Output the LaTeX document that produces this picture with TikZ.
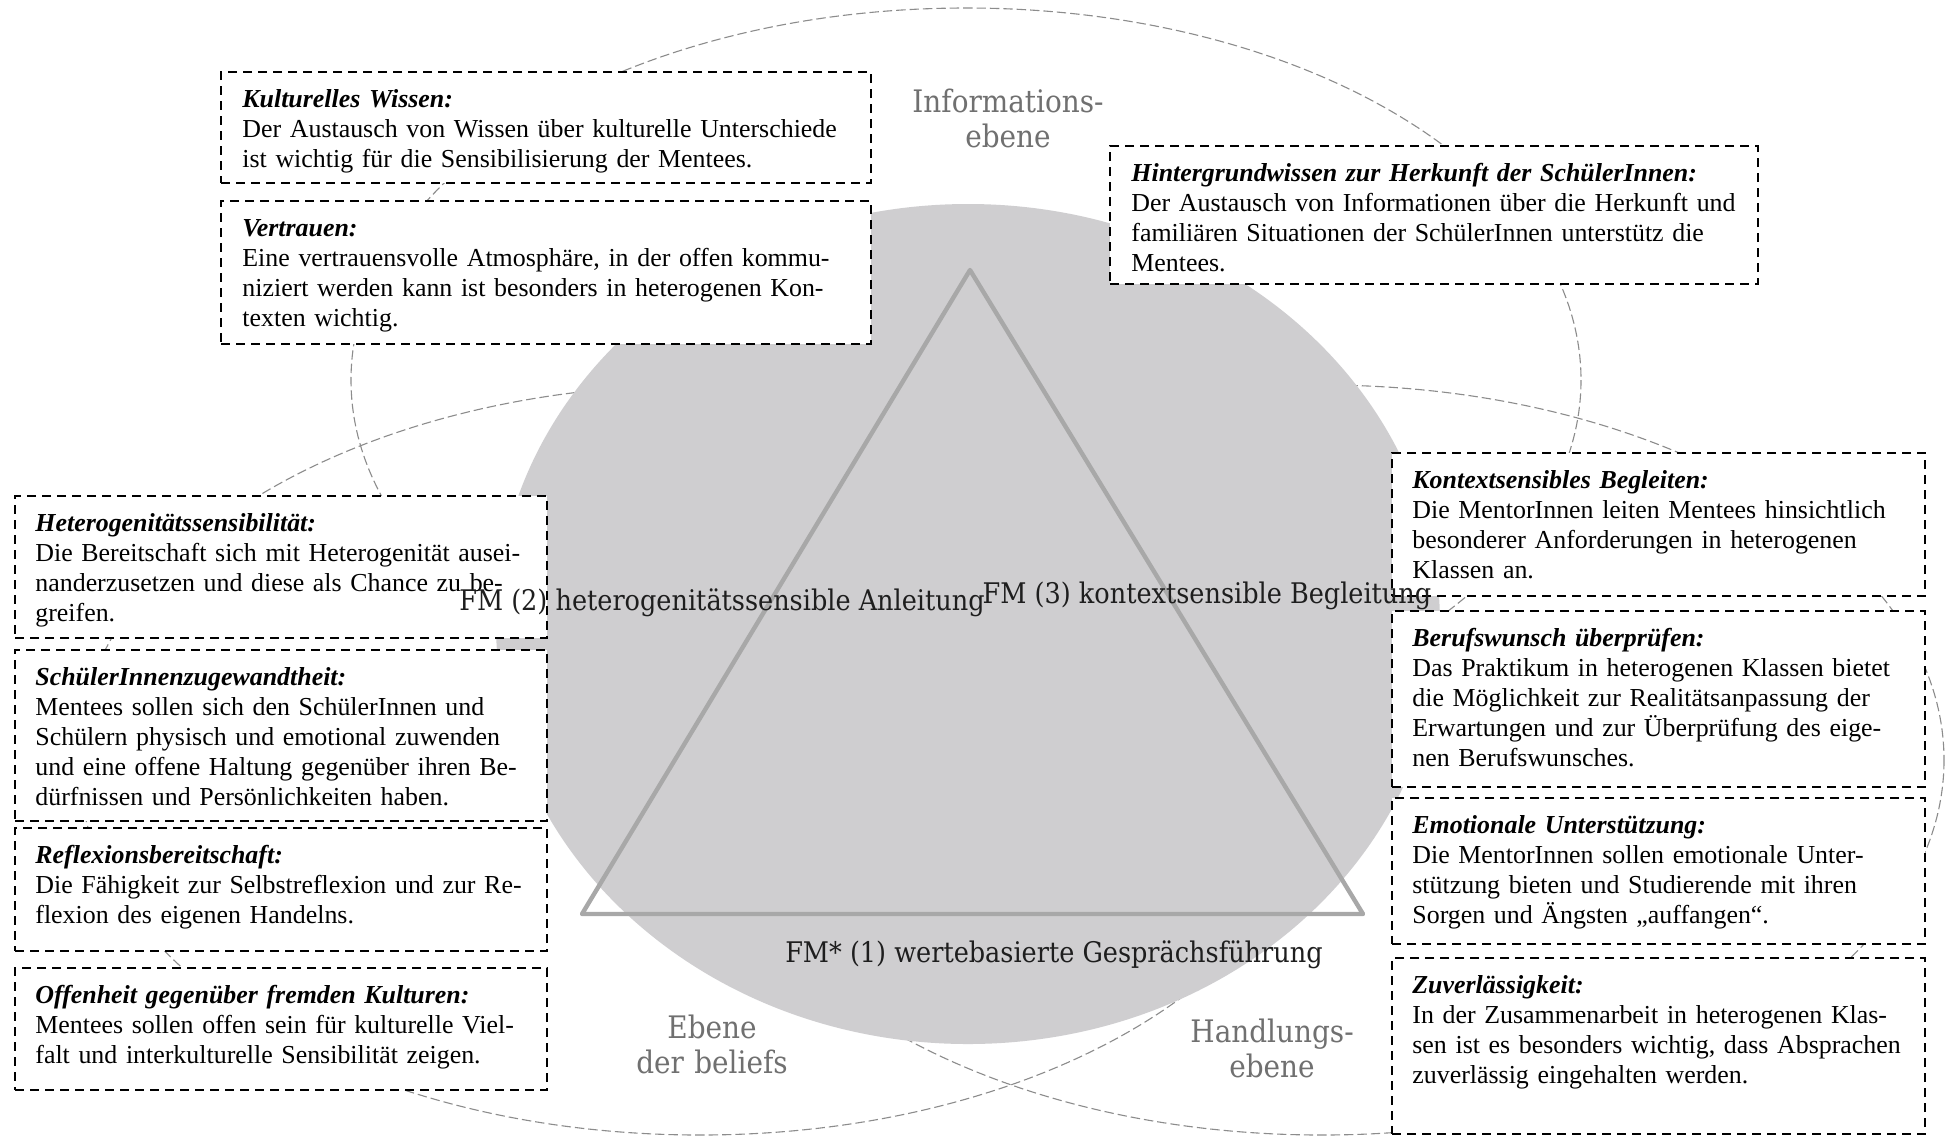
\documentclass[tikz,border=0pt]{standalone}
\usepackage{fontspec}
\setmainfont{Liberation Serif}
\newfontfamily\lblfont{DejaVu Serif Condensed}
\definecolor{discgray}{RGB}{207,206,208}
\definecolor{trigray}{RGB}{168,168,168}
\definecolor{vennline}{RGB}{140,140,140}
\definecolor{venntext}{RGB}{112,112,112}
\definecolor{fmtext}{RGB}{30,30,30}
\newcommand\cardtitle[1]{\textbf{\textit{#1}}}

\begin{document}
\begin{tikzpicture}[x=0.5pt,y=-0.5pt,
  venn/.style={draw=vennline, line width=0.55pt, dash pattern=on 4.7pt off 2pt},
  card/.style={draw=black, fill=white, line width=1pt, dash pattern=on 4.5pt off 3pt,
    inner sep=0pt, anchor=north west},
  wide/.style={card, minimum width=325pt},
  side/.style={card, minimum width=266pt},
  cardtext/.style={anchor=base west, inner sep=0pt, align=left, text width=#1,
    font=\fontsize{12.95}{15}\selectfont},
  level/.style={anchor=base, inner sep=0pt, align=center, text width=140pt,
    text=venntext, font=\lblfont\fontsize{15.5}{17.5}\selectfont},
  fm/.style={anchor=base, inner sep=0pt, text=fmtext,
    font=\lblfont\fontsize{14.2}{17}\selectfont}]

% page
\path[fill=white] (0,0) rectangle (1952,1137);
\useasboundingbox (0,0) rectangle (1952,1137);

% three overlapping levels
\draw[venn] (966,380) ellipse [x radius=615, y radius=372];
\draw[venn] (700,760) ellipse [x radius=622, y radius=375];
\draw[venn] (1322,760) ellipse [x radius=622, y radius=375];

% core disc and triangle
\fill[discgray] (968,624) ellipse [x radius=472, y radius=420];
\coordinate (apex) at (970,270);
\coordinate (bl) at (582,914);
\coordinate (br) at (1363,914);
\draw[trigray, line width=2.2pt, line join=round] (apex) -- (bl) -- (br) -- cycle;

% cards, top
\node[wide, minimum height=55.5pt] (kw) at (220,71) {};
\node[cardtext=311pt] (kwt) at ([shift={(22,36)}]kw.north west)
  {\cardtitle{Kulturelles Wissen:}\\
   Der Austausch von Wissen über kulturelle Unterschiede\\
   ist wichtig für die Sensibilisierung der Mentees.};

\node[wide, minimum height=71.5pt] (vt) at (220,200) {};
\node[cardtext=311pt] (vtt) at ([shift={(22,36)}]vt.north west)
  {\cardtitle{Vertrauen:}\\
   Eine vertrauensvolle Atmosphäre, in der offen kommu-\\
   niziert werden kann ist besonders in heterogenen Kon-\\
   texten wichtig.};

\node[card, minimum width=324pt, minimum height=69pt] (hw) at (1109,145) {};
\node[cardtext=310pt] (hwt) at ([shift={(22,36)}]hw.north west)
  {\cardtitle{Hintergrundwissen zur Herkunft der SchülerInnen:}\\
   Der Austausch von Informationen über die Herkunft und\\
   familiären Situationen der SchülerInnen unterstütz die\\
   Mentees.};

% cards, left
\node[side, minimum height=71pt] (hs) at (14,495) {};
\node[cardtext=253pt] (hst) at ([shift={(21,36)}]hs.north west)
  {\cardtitle{Heterogenitätssensibilität:}\\
   Die Bereitschaft sich mit Heterogenität ausei-\\
   nanderzusetzen und diese als Chance zu be-\\
   greifen.};

\node[side, minimum height=85.5pt] (sz) at (14,649) {};
\node[cardtext=253pt] (szt) at ([shift={(21,36)}]sz.north west)
  {\cardtitle{SchülerInnenzugewandtheit:}\\
   Mentees sollen sich den SchülerInnen und\\
   Schülern physisch und emotional zuwenden\\
   und eine offene Haltung gegenüber ihren Be-\\
   dürfnissen und Persönlichkeiten haben.};

\node[side, minimum height=61.5pt] (rb) at (14,827) {};
\node[cardtext=253pt] (rbt) at ([shift={(21,36)}]rb.north west)
  {\cardtitle{Reflexionsbereitschaft:}\\
   Die Fähigkeit zur Selbstreflexion und zur Re-\\
   flexion des eigenen Handelns.};

\node[side, minimum height=61pt] (ok) at (14,967) {};
\node[cardtext=253pt] (okt) at ([shift={(21,36)}]ok.north west)
  {\cardtitle{Offenheit gegenüber fremden Kulturen:}\\
   Mentees sollen offen sein für kulturelle Viel-\\
   falt und interkulturelle Sensibilität zeigen.};

% cards, right
\node[card, minimum width=266.5pt, minimum height=71.5pt] (kb) at (1391,452) {};
\node[cardtext=253pt] (kbt) at ([shift={(21,36)}]kb.north west)
  {\cardtitle{Kontextsensibles Begleiten:}\\
   Die MentorInnen leiten Mentees hinsichtlich\\
   besonderer Anforderungen in heterogenen\\
   Klassen an.};

\node[card, minimum width=266.5pt, minimum height=88pt] (bw) at (1391,610) {};
\node[cardtext=253pt] (bwt) at ([shift={(21,36)}]bw.north west)
  {\cardtitle{Berufswunsch überprüfen:}\\
   Das Praktikum in heterogenen Klassen bietet\\
   die Möglichkeit zur Realitätsanpassung der\\
   Erwartungen und zur Überprüfung des eige-\\
   nen Berufswunsches.};

\node[card, minimum width=266.5pt, minimum height=73pt] (eu) at (1391,797) {};
\node[cardtext=253pt] (eut) at ([shift={(21,36)}]eu.north west)
  {\cardtitle{Emotionale Unterstützung:}\\
   Die MentorInnen sollen emotionale Unter-\\
   stützung bieten und Studierende mit ihren\\
   Sorgen und Ängsten „auffangen“.};

\node[card, minimum width=266.5pt, minimum height=88pt] (zv) at (1391,957) {};
\node[cardtext=253pt] (zvt) at ([shift={(21,36)}]zv.north west)
  {\cardtitle{Zuverlässigkeit:}\\
   In der Zusammenarbeit in heterogenen Klas-\\
   sen ist es besonders wichtig, dass Absprachen\\
   zuverlässig eingehalten werden.};

% guiding features on the triangle
\node[fm] (fm2) at (722,610) {FM (2) heterogenitätssensible Anleitung};
\node[fm] (fm3) at (1207,603) {FM (3) kontextsensible Begleitung};
\node[fm] (fm1) at (1054,962) {FM* (1) wertebasierte Gesprächsführung};

% level names
\node[level] (info) at (1008,112) {Informations-\\ebene};
\node[level] (beliefs) at (712,1038) {Ebene\\der beliefs};
\node[level] (handlung) at (1272,1042) {Handlungs-\\ebene};
\end{tikzpicture}
\end{document}
